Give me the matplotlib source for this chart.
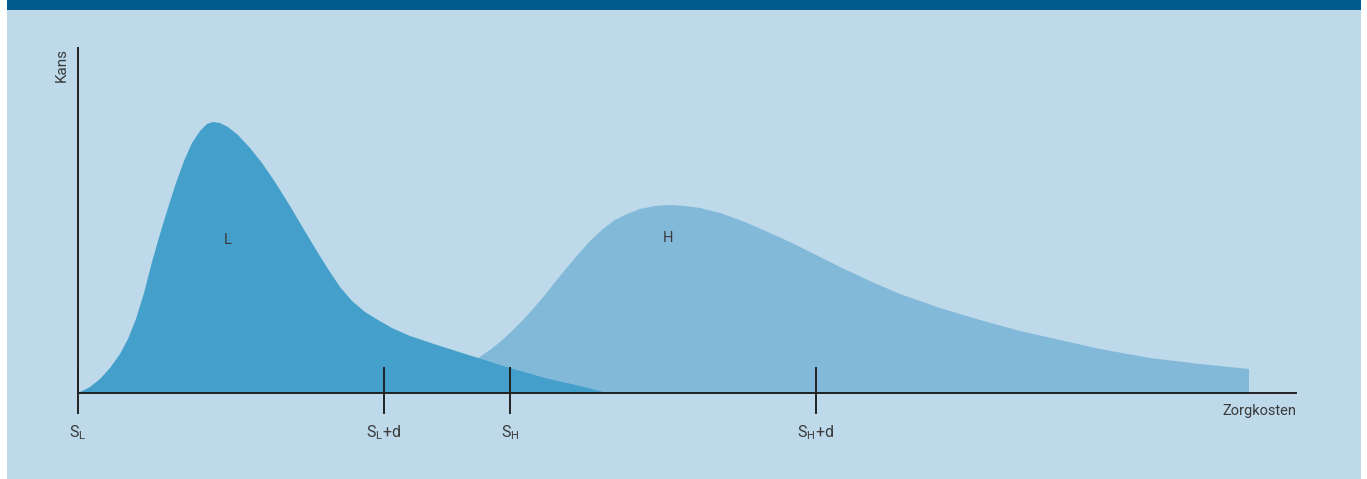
import matplotlib
matplotlib.use("Agg")
import matplotlib.pyplot as plt
from matplotlib.patches import Rectangle

# curve values (x = cost, y = probability, arbitrary units)
low_x = [0, 12, 22, 32, 42, 50, 58, 66, 74, 82, 90, 98, 106, 114, 122, 129, 135, 142, 150, 160,
         172, 184, 197, 212, 225, 237, 250, 262, 274, 287, 300, 314, 332, 362, 397, 432, 467, 502, 529]
low_y = [0, 6, 14, 25, 39, 54, 74, 100, 131, 159, 185, 210, 232, 250, 262, 269, 271, 270, 266, 258,
         245, 230, 211, 187, 165, 145, 124, 106, 92, 81, 73, 65, 57, 47, 36, 25, 15, 7, 0]

high_x = [387, 399, 412, 422, 432, 444, 455, 467, 474, 482, 497, 512, 525, 537, 549, 562, 577, 592,
          607, 622, 642, 667, 692, 712, 732, 762, 792, 822, 862, 902, 942, 982, 1022, 1072, 1122, 1171, 1171]
high_y = [0, 34, 43, 51, 60, 72, 84, 98, 107, 117, 135, 152, 164, 173, 179, 184, 187, 188,
          187, 185, 180, 171, 160, 151, 141, 126, 112, 99, 85, 73, 62, 53, 44, 35, 29, 24, 0]

tick_pos = [0, 306, 432, 738]
tick_labels = ["$\\mathregular{S_L}$", "$\\mathregular{S_L}$+d", "$\\mathregular{S_H}$", "$\\mathregular{S_H}$+d"]

BG = "#bdd9ea"
BAND = "#005b8c"
C_LOW = "#44a0ca"
C_HIGH = "#82b9d9"
INK = "#222222"
TXT = "#3a3a3a"

plt.rcParams["font.family"] = ["Roboto", "DejaVu Sans"]
plt.rcParams["mathtext.fontset"] = "custom"
plt.rcParams["mathtext.rm"] = "Roboto"

W, H = 1367, 479
fig = plt.figure(figsize=(W / 100, H / 100), dpi=100, facecolor="white")

# panel background + top band
fig.patches.append(Rectangle((7 / W, 0), (1361 - 7) / W, 1 - 10 / H, transform=fig.transFigure,
                             facecolor=BG, edgecolor="none", zorder=-10))
fig.patches.append(Rectangle((7 / W, 1 - 10 / H), (1361 - 7) / W, 10 / H, transform=fig.transFigure,
                             facecolor=BAND, edgecolor="none", zorder=-10))

ax = fig.add_axes([78 / W, (H - 393) / H, (1296 - 78) / W, (393 - 48) / H])
ax.set_facecolor("none")
ax.set_xlim(0, 1218)
ax.set_ylim(0, 345)

ax.fill(high_x, high_y, color=C_HIGH, lw=0, zorder=1)
ax.fill(low_x, low_y, color=C_LOW, lw=0, zorder=2)

for s in ["top", "right"]:
    ax.spines[s].set_visible(False)
for s in ["left", "bottom"]:
    ax.spines[s].set_color(INK)
    ax.spines[s].set_linewidth(1.4)
    ax.spines[s].set_zorder(3)
ax.set_xticks([])
ax.set_yticks([])

ax.vlines(tick_pos, -21, 26, color=INK, lw=1.4, clip_on=False, zorder=4)
for p, lab in zip(tick_pos, tick_labels):
    ax.text(p, -40, lab, ha="center", va="center", fontsize=11.5, color=TXT)

ax.text(1218, -18, "Zorgkosten", ha="right", va="center", fontsize=10.5, color=TXT)
ax.text(-16, 345, "Kans", rotation=90, ha="center", va="top", fontsize=11, color=TXT)

ax.text(150, 153, "L", ha="center", va="center", fontsize=10.5, color=TXT)
ax.text(590, 155, "H", ha="center", va="center", fontsize=10.5, color=TXT)

fig.savefig("out.png", dpi=100, facecolor="white")
